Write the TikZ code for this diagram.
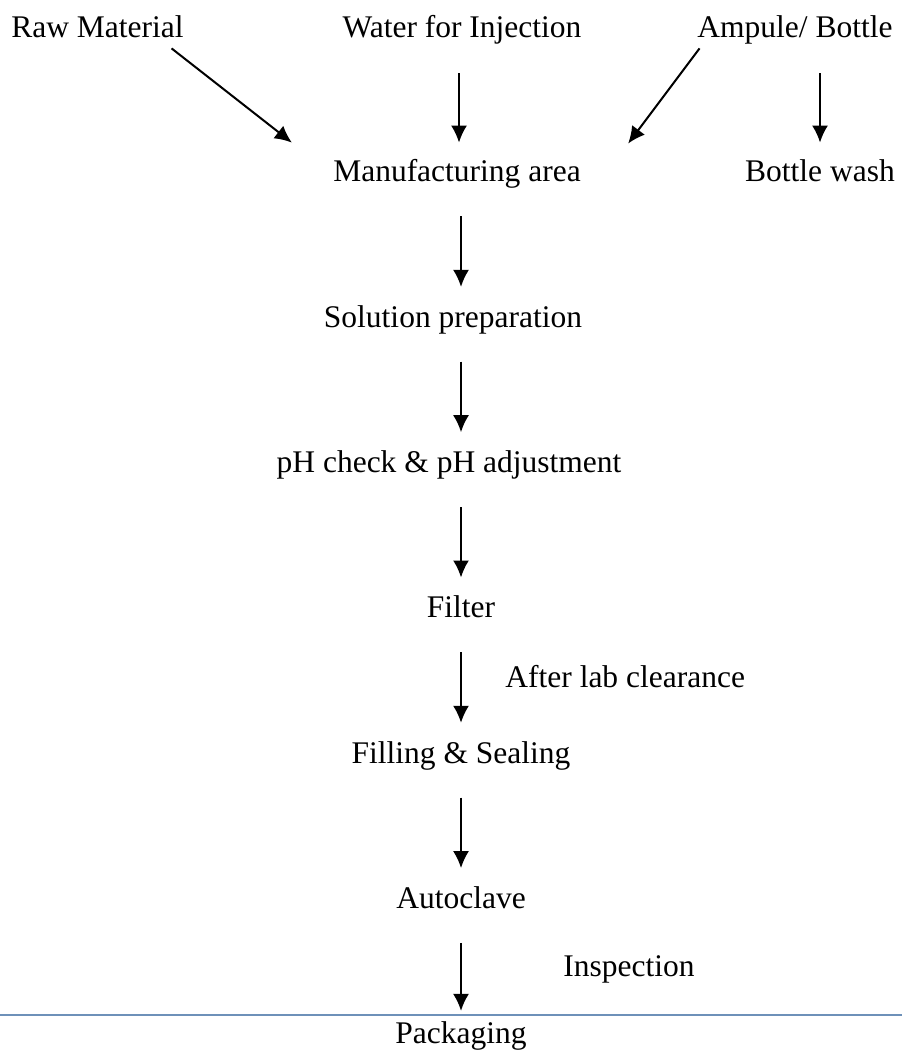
\documentclass[tikz,border=0pt]{standalone}
\usepackage{fontspec}
\setmainfont{Liberation Serif}
\usetikzlibrary{positioning}
\usetikzlibrary{calc}
\usetikzlibrary{arrows.meta}
\definecolor{rulebar}{RGB}{110,145,185}

\begin{document}
\begin{tikzpicture}[
    x=0.5pt, y=0.5pt,
    node distance=57.75pt,
    >={Latex[length=8.5pt,width=8pt]},
    % node styles
    stage/.style = {
      draw=none,
      inner sep=0pt,
      text height=11pt,
      text depth=3.5pt,
      font=\fontsize{15.75}{19}\selectfont
    },
    note/.style = {stage, anchor=base west},
    % arrow styles
    arr/.style = {->, line width=1pt, draw=black},
    downarr/.style = {arr, shorten <=13.5pt, shorten >=9pt},
    toparr/.style = {arr, shorten <=14pt, shorten >=8.5pt}
  ]
  \useasboundingbox (0,0) rectangle (902,-1052);

  % --- Nodes
  \node[stage, anchor=base] (raw) at (97.5,-38) {Raw Material};
  \node[stage, anchor=base] (water) at (462,-38) {Water for Injection};
  \node[stage, anchor=base] (amp) at (795,-38) {Ampule/ Bottle};

  \node[stage, anchor=base] (manu) at (457,-182) {Manufacturing area};
  \node[stage, anchor=base] (wash) at (820,-182) {Bottle wash};

  \node[stage, below=of manu, xshift=-2pt] (sol) {Solution preparation};
  \node[stage, below=of sol, xshift=-2pt] (ph) {pH check \& pH adjustment};
  \node[stage, below=of ph, xshift=6pt] (filter) {Filter};
  \node[stage, below=of filter] (fill) {Filling \& Sealing};
  \node[stage, below=of fill] (auto) {Autoclave};
  \node[stage, below=52.5pt of auto] (pack) {Packaging};

  \node[note] (lab) at (505,-687) {After lab clearance};
  \node[note] (insp) at (563,-976) {Inspection};

  % --- Arrows
  \draw[arr] ([xshift=-6.25pt,yshift=-1.5pt]raw.south east) -- ([xshift=-20.5pt,yshift=8.5pt]manu.north west);
  \draw[toparr] ([xshift=-1.5pt]water.south) -- ([xshift=-1.5pt]water.south |- manu.north);
  \draw[arr] ([xshift=1.25pt,yshift=-1.5pt]amp.south west) -- ([xshift=23.5pt,yshift=8pt]manu.north east);
  \draw[toparr] (wash.north |- amp.south) -- (wash.north);

  \draw[downarr] (manu.south -| filter) -- (sol.north -| filter);
  \draw[downarr] (sol.south -| filter) -- (ph.north -| filter);
  \draw[downarr] (ph.south -| filter) -- (filter.north);
  \draw[downarr] (filter.south) -- (fill.north);
  \draw[downarr] (fill.south) -- (auto.north);
  \draw[downarr, shorten >=5pt] (auto.south) -- (pack.north);

  % page rule above the last step
  \draw[rulebar, line width=1pt] (0,-1014.5) -- (902,-1014.5);

\end{tikzpicture}
\end{document}
